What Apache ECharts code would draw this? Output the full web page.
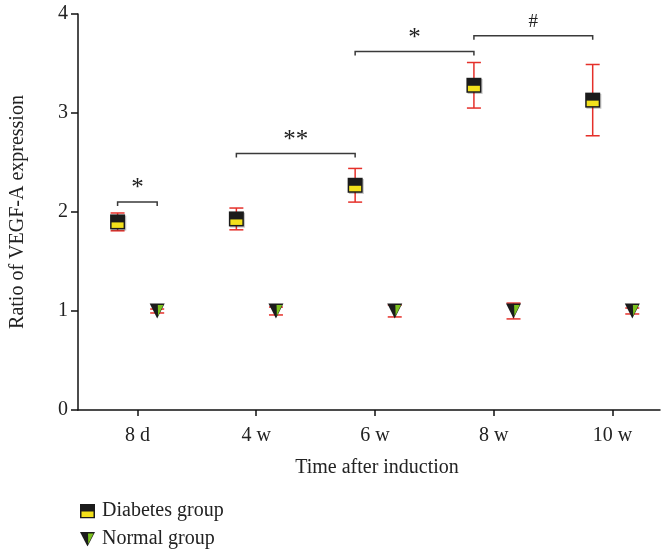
<!DOCTYPE html>
<html>
<head>
<meta charset="utf-8">
<script src="https://cdn.jsdelivr.net/npm/echarts@6/dist/echarts.min.js"></script>
<style>
html,body{margin:0;padding:0;background:#fff;}
#chart{width:661px;height:552px;}
</style>
</head>
<body>
<div id="chart"></div>
<script>
// ---- data ----
const categories = ['8 d', '4 w', '6 w', '8 w', '10 w'];
const yTicks = [0, 1, 2, 3, 4];
const diabetesMean = [1.90, 1.93, 2.27, 3.28, 3.13];
const diabetesSD   = [0.09, 0.11, 0.17, 0.23, 0.36];
const normalMean   = [1.00, 1.00, 1.00, 1.00, 1.00];
const normalSD     = [0.02, 0.04, 0.06, 0.08, 0.03];
// significance brackets: [fromCategory, fromGroup, toCategory, toGroup]
const sigPairs   = [[0, 'D', 0, 'N'], [1, 'D', 2, 'D'], [2, 'D', 3, 'D'], [3, 'D', 4, 'D']];
const sigHeights = [2.10, 2.59, 3.62, 3.78];
const sigLabels  = ['*', '**', '*', '#'];
const legendNames = ['Diabetes group', 'Normal group'];

// ---- styling ----
const FONT = '"Liberation Serif", "DejaVu Serif", serif';
const TXT = '#222';
const RED = '#e5302a';
const BLACK = '#1b1b1b';
const YELLOW = '#f3e11b';
const GREEN = '#7cc21f';
const OFF = 1 / 6; // group offset within category (axis units)
const groupX = (i, g) => i + 1 + (g === 'D' ? -OFF : OFF);

const sqIcon = 'image://data:image/svg+xml;utf8,' + encodeURIComponent(
  "<svg xmlns='http://www.w3.org/2000/svg' width='30' height='30' viewBox='0 0 15 15'>" +
  "<rect x='0' y='0' width='15' height='15' fill='" + BLACK + "'/>" +
  "<rect x='1.5' y='8' width='12' height='5.5' fill='" + YELLOW + "'/></svg>");
const triIcon = 'image://data:image/svg+xml;utf8,' + encodeURIComponent(
  "<svg xmlns='http://www.w3.org/2000/svg' width='30' height='30' viewBox='0 0 15 15'>" +
  "<polygon points='0,0.5 15,0.5 7.5,15' fill='" + BLACK + "'/>" +
  "<polygon points='8,2 13.5,2 8.3,12.5' fill='" + GREEN + "'/></svg>");

function markerRender(kind) {
  return function (params, api) {
    const x = api.value(0), m = api.value(1), sd = api.value(2);
    const c = api.coord([x, m]);
    const t = api.coord([x, m + sd]);
    const b = api.coord([x, m - sd]);
    const cap = 7;
    const ls = { stroke: RED, lineWidth: 1.5 };
    const ch = [
      { type: 'line', shape: { x1: c[0], y1: t[1], x2: c[0], y2: b[1] }, style: ls },
      { type: 'line', shape: { x1: c[0] - cap, y1: t[1], x2: c[0] + cap, y2: t[1] }, style: ls },
      { type: 'line', shape: { x1: c[0] - cap, y1: b[1], x2: c[0] + cap, y2: b[1] }, style: ls }
    ];
    if (kind === 'D') {
      const s = 7.5;
      ch.push({ type: 'rect', shape: { x: c[0] - s + 1.2, y: c[1] - s + 1.2, width: 2 * s, height: 2 * s }, style: { fill: 'rgba(0,0,0,0.22)' } });
      ch.push({ type: 'rect', shape: { x: c[0] - s, y: c[1] - s, width: 2 * s, height: 2 * s }, style: { fill: BLACK } });
      ch.push({ type: 'rect', shape: { x: c[0] - s + 1.5, y: c[1] + 0.5, width: 2 * s - 3, height: s - 2 }, style: { fill: YELLOW } });
    } else {
      ch.push({ type: 'polygon', shape: { points: [[c[0] - 7.5, c[1] - 7.5], [c[0] + 7.5, c[1] - 7.5], [c[0], c[1] + 7.5]] }, style: { fill: BLACK } });
      ch.push({ type: 'polygon', shape: { points: [[c[0] + 0.6, c[1] - 6], [c[0] + 6.2, c[1] - 6], [c[0] + 0.9, c[1] + 5]] }, style: { fill: GREEN } });
    }
    return { type: 'group', children: ch };
  };
}

function bracketRender(params, api) {
  const x1 = api.value(0), x2 = api.value(1), y = api.value(2);
  const p1 = api.coord([x1, y]);
  const p2 = api.coord([x2, y]);
  const drop = 4;
  const lbl = sigLabels[params.dataIndex];
  const isStar = lbl.indexOf('*') >= 0;
  return {
    type: 'group',
    children: [
      { type: 'polyline', shape: { points: [[p1[0], p1[1] + drop], [p1[0], p1[1]], [p2[0], p2[1]], [p2[0], p2[1] + drop]] },
        style: { stroke: '#3a3a3a', lineWidth: 1.5, fill: null } },
      { type: 'text', x: (p1[0] + p2[0]) / 2, y: p1[1] - (isStar ? 1 : 4),
        style: { text: lbl, font: (isStar ? '25px ' : '19px ') + FONT, fill: TXT, align: 'center', verticalAlign: 'bottom' } }
    ]
  };
}

const dData = diabetesMean.map((v, i) => [groupX(i, 'D'), v, diabetesSD[i]]);
const nData = normalMean.map((v, i) => [groupX(i, 'N'), v, normalSD[i]]);
const bData = sigPairs.map((p, k) => [groupX(p[0], p[1]), groupX(p[2], p[3]), sigHeights[k]]);

const legendBase = {
  left: 75, itemWidth: 15, itemHeight: 15,
  textStyle: { fontFamily: FONT, fontSize: 20, color: TXT, padding: [0, 0, 0, 2] }
};

const chart = echarts.init(document.getElementById('chart'), null, { renderer: 'canvas' });
chart.setOption({
  animation: false,
  backgroundColor: '#fff',
  grid: { left: 74, right: 1, top: 14, bottom: 142, containLabel: false },
  legend: [
    Object.assign({}, legendBase, { top: 496, data: [{ name: legendNames[0], icon: sqIcon }] }),
    Object.assign({}, legendBase, { top: 524, data: [{ name: legendNames[1], icon: triIcon }] })
  ],
  xAxis: {
    type: 'value', min: 0.5, max: 5.4,
    name: 'Time after induction', nameLocation: 'middle', nameGap: 48,
    nameTextStyle: { fontFamily: FONT, fontSize: 20, color: TXT, padding: [0, 0, 0, 16] },
    axisLine: { show: true, onZero: false, lineStyle: { color: '#111', width: 1.5 } },
    axisTick: { show: true, length: 6, customValues: categories.map((c, i) => i + 1), lineStyle: { color: '#111', width: 1.5 } },
    axisLabel: { customValues: categories.map((c, i) => i + 1), formatter: v => categories[Math.round(v) - 1],
      fontFamily: FONT, fontSize: 20, color: TXT, margin: 16 },
    splitLine: { show: false }
  },
  yAxis: {
    type: 'value', min: 0, max: 4, interval: 1,
    name: 'Ratio of VEGF-A expression', nameLocation: 'middle', nameGap: 50,
    nameTextStyle: { fontFamily: FONT, fontSize: 20, color: TXT },
    axisLine: { show: true, lineStyle: { color: '#111', width: 1.5 } },
    axisTick: { show: true, length: 7, lineStyle: { color: '#111', width: 1.5 } },
    axisLabel: { fontFamily: FONT, fontSize: 20, color: TXT, margin: 10, formatter: v => yTicks.includes(v) ? String(v) : '' },
    splitLine: { show: false }
  },
  series: [
    { name: legendNames[0], type: 'custom', renderItem: markerRender('D'), data: dData, encode: { x: 0, y: 1 }, z: 3 },
    { name: legendNames[1], type: 'custom', renderItem: markerRender('N'), data: nData, encode: { x: 0, y: 1 }, z: 3 },
    { name: 'brackets', type: 'custom', renderItem: bracketRender, data: bData, encode: { x: [0, 1], y: 2 }, z: 2 }
  ]
});
</script>
</body>
</html>
